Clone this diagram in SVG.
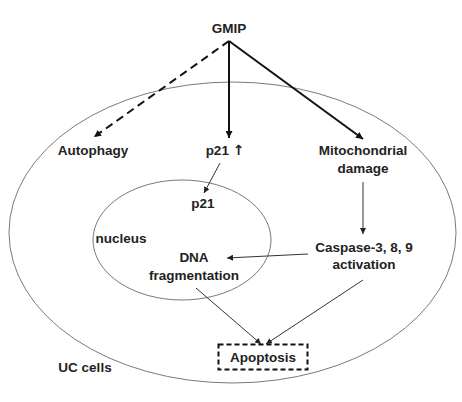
<svg xmlns="http://www.w3.org/2000/svg" width="462" height="402" viewBox="0 0 462 402">
<style>
text{font-family:"Liberation Sans",Arial,sans-serif;font-weight:bold;font-size:13.5px;fill:#222;text-anchor:middle}
.arr{font-family:"DejaVu Sans",sans-serif;font-weight:bold;font-size:14px;fill:#222}
.cell{fill:none;stroke:#7a7a7a;stroke-width:1}
.thick{fill:none;stroke:#111;stroke-width:2}
.thin{fill:none;stroke:#333;stroke-width:1}
</style>
<defs>
<marker id="ah" markerUnits="userSpaceOnUse" markerWidth="8" markerHeight="7" refX="7" refY="3.5" orient="auto">
<path d="M0,0 L7,3.5 L0,7 Z" fill="#111"/>
</marker>
<marker id="as" markerUnits="userSpaceOnUse" markerWidth="7" markerHeight="6" refX="6" refY="3" orient="auto">
<path d="M0,0 L6,3 L0,6 Z" fill="#222"/>
</marker>
</defs>
<rect width="462" height="402" fill="#fff"/>
<g id="cell-outer"><ellipse class="cell" cx="232.5" cy="232.5" rx="223.5" ry="150.5"/></g>
<g id="nucleus-ellipse"><ellipse class="cell" cx="182" cy="240" rx="89" ry="60"/></g>
<g id="connectors">
<path class="thick" d="M229,41 L94,137" stroke-dasharray="8,5" marker-end="url(#ah)"/>
<path class="thick" d="M229,41 L229,138" marker-end="url(#ah)"/>
<path class="thick" d="M229,41 L363,139" marker-end="url(#ah)"/>
<path class="thin" d="M220,163 L204,193" marker-end="url(#as)"/>
<path class="thin" d="M363,182 L363,234" marker-end="url(#as)"/>
<path class="thin" d="M308,254 L227,258" marker-end="url(#as)"/>
<path class="thin" d="M196,288 L261,344" marker-end="url(#as)"/>
<path class="thin" d="M363,280 L266,344" marker-end="url(#as)"/>
</g>
<g id="gmip"><text x="229" y="33">GMIP</text></g>
<g id="autophagy"><text x="93" y="155">Autophagy</text></g>
<g id="p21-up"><text x="225" y="155">p21 <tspan class="arr">↑</tspan></text></g>
<g id="mito"><text x="363" y="155">Mitochondrial</text><text x="363" y="173">damage</text></g>
<g id="p21-nuc"><text x="203" y="208">p21</text></g>
<g id="nucleus"><text x="121" y="243">nucleus</text></g>
<g id="dna"><text x="194" y="262">DNA</text><text x="194" y="280">fragmentation</text></g>
<g id="caspase"><text x="364" y="252">Caspase-3, 8, 9</text><text x="364" y="269">activation</text></g>
<g id="apoptosis"><rect x="218.5" y="344.5" width="89" height="25" fill="none" stroke="#111" stroke-width="2" stroke-dasharray="5,3"/><text x="263" y="362">Apoptosis</text></g>
<g id="uc-cells"><text x="85" y="372">UC cells</text></g>
</svg>
